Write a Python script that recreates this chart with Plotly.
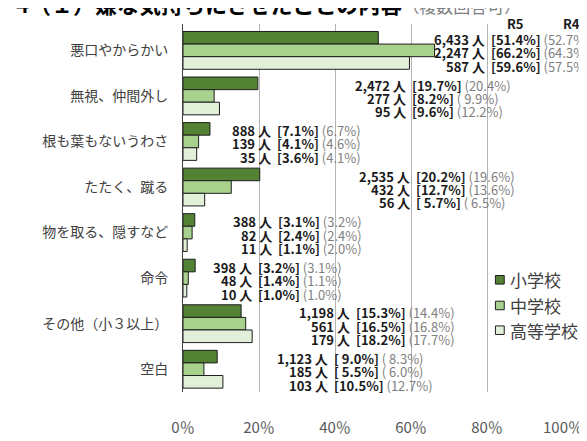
import plotly.graph_objects as go

# ---------------- data ----------------
categories = ["悪口やからかい", "無視、仲間外し", "根も葉もないうわさ", "たたく、蹴る",
              "物を取る、隠すなど", "命令", "その他（小３以上）", "空白"]
series_names = ["小学校", "中学校", "高等学校"]

count_elem = [6433, 2472, 888, 2535, 388, 398, 1198, 1123]
pct_elem = [51.4, 19.7, 7.1, 20.2, 3.1, 3.2, 15.3, 9.0]
prev_elem = [52.7, 20.4, 6.7, 19.6, 3.2, 3.1, 14.4, 8.3]

count_jh = [2247, 277, 139, 432, 82, 48, 561, 185]
pct_jh = [66.2, 8.2, 4.1, 12.7, 2.4, 1.4, 16.5, 5.5]
prev_jh = [64.3, 9.9, 4.6, 13.6, 2.4, 1.1, 16.8, 6.0]

count_hs = [587, 95, 35, 56, 11, 10, 179, 103]
pct_hs = [59.6, 9.6, 3.6, 5.7, 1.1, 1.0, 18.2, 10.5]
prev_hs = [57.5, 12.2, 4.1, 6.5, 2.0, 1.0, 17.7, 12.7]

x_tick_vals = [0, 20, 40, 60, 80, 100]
x_tick_text = ["0％", "20％", "40％", "60％", "80％", "100％"]

title_main = "4（１）嫌な気持ちにさせたことの内容"
title_sub = "（複数回答可）"
header_cur = "R5"
header_prev = "R4"

# ---------------- style / layout ----------------
colors = ["#548235", "#A9D18E", "#E2F0D9"]
edge = "#1e1e1e"
FONT = "Noto Sans CJK JP"
W, H = 587, 441
L, R, T, B = 175, 24, 16, 38
plot_w = W - L - R
plot_h = H - T - B

# label anchor (x in axis %) per group and whether numbers are space-padded
label_x = [80.3, 59.6, 24.0, 60.5, 24.2, 19.0, 44.7, 38.9]
pad_cur = [False, False, False, True, False, False, False, True]
pad_prev = [False, True, False, True, False, False, False, True]

counts = [count_elem, count_jh, count_hs]
pcts = [pct_elem, pct_jh, pct_hs]
prevs = [prev_elem, prev_jh, prev_hs]

fig = go.Figure()
for name, vals, col in zip(series_names, pcts, colors):
    fig.add_trace(go.Bar(
        y=categories, x=vals, name=name, orientation="h",
        marker=dict(color=col, line=dict(color=edge, width=1)),
        showlegend=False, hoverinfo="skip",
    ))

group_px = plot_h / len(categories)
bargap = 0.17
bar_px = group_px * (1 - bargap) / 3


def fmt(v, pad):
    s = f"{v:.1f}%"
    if pad and v < 10:
        s = " " + s
    return s


annotations = []
for g, cat in enumerate(categories):
    for s in range(3):
        ys = -((s - 1) * bar_px + 2.5)
        left = f"<b>{counts[s][g]:,} 人</b>"
        right = (f"<b>[{fmt(pcts[s][g], pad_cur[g])}]</b> "
                 f"<span style='color:#7f7f7f'>({fmt(prevs[s][g], pad_prev[g])})</span>")
        annotations.append(dict(x=label_x[g], y=cat, xref="x", yref="y", text=left,
                                xanchor="right", yanchor="middle", showarrow=False,
                                xshift=-2, yshift=ys, borderpad=0,
                                font=dict(family=FONT, size=13, color="#1a1a1a")))
        annotations.append(dict(x=label_x[g], y=cat, xref="x", yref="y", text=right,
                                xanchor="left", yanchor="middle", showarrow=False,
                                xshift=2, yshift=ys, borderpad=0,
                                font=dict(family=FONT, size=13, color="#1a1a1a")))


def px_x(px):
    return (px - L) / plot_w


def px_y(py):
    return (H - B - py) / plot_h


# column headers
annotations.append(dict(x=px_x(514), y=px_y(15.5), xref="paper", yref="paper", text=f"<b>{header_cur}</b>",
                        showarrow=False, xanchor="center", yanchor="middle",
                        font=dict(family=FONT, size=13, color="#1a1a1a")))
annotations.append(dict(x=px_x(572), y=px_y(15.5), xref="paper", yref="paper", text=f"<b>{header_prev}</b>",
                        showarrow=False, xanchor="center", yanchor="middle",
                        font=dict(family=FONT, size=13, color="#1a1a1a")))

# title (partly cut at top as in reference)
annotations.append(dict(x=px_x(3), y=px_y(-6.5), xref="paper", yref="paper",
                        text=f"<b>{title_main}</b><span style='font-size:17px;color:#7f7f7f'>{title_sub}</span>",
                        showarrow=False, xanchor="left", yanchor="middle", borderpad=0,
                        font=dict(family=FONT, size=22, color="#000000")))

# manual legend
shapes = []
legend_y = [285, 312, 338]
for name, col, ly in zip(series_names, colors, legend_y):
    shapes.append(dict(type="rect", xref="paper", yref="paper",
                       x0=px_x(494), x1=px_x(503), y0=px_y(ly + 4.5), y1=px_y(ly - 4.5),
                       fillcolor=col, line=dict(color=edge, width=1)))
    annotations.append(dict(x=px_x(507), y=px_y(ly), xref="paper", yref="paper", text=name,
                            showarrow=False, xanchor="left", yanchor="middle",
                            font=dict(family=FONT, size=17, color="#404040")))

fig.update_layout(
    width=W, height=H,
    margin=dict(l=L, r=R, t=T, b=B, pad=0),
    paper_bgcolor="white", plot_bgcolor="white",
    barmode="group", bargap=bargap, bargroupgap=0,
    font=dict(family=FONT),
    annotations=annotations, shapes=shapes,
    xaxis=dict(range=[0, 100], tickvals=x_tick_vals, ticktext=x_tick_text,
               showgrid=True, gridcolor="#b4b4b4", gridwidth=1, zeroline=False,
               showline=False, ticks="outside", ticklen=22, tickcolor="rgba(0,0,0,0)",
               tickfont=dict(family=FONT, size=15, color="#595959"), fixedrange=True),
    yaxis=dict(type="category", categoryorder="array", categoryarray=categories,
               autorange="reversed", showgrid=False, zeroline=False,
               showline=True, linecolor="#404040", linewidth=1,
               ticks="outside", ticklen=11, tickcolor="rgba(0,0,0,0)",
               tickfont=dict(family=FONT, size=14, color="#404040"), fixedrange=True),
)

fig.write_html("out.html")
